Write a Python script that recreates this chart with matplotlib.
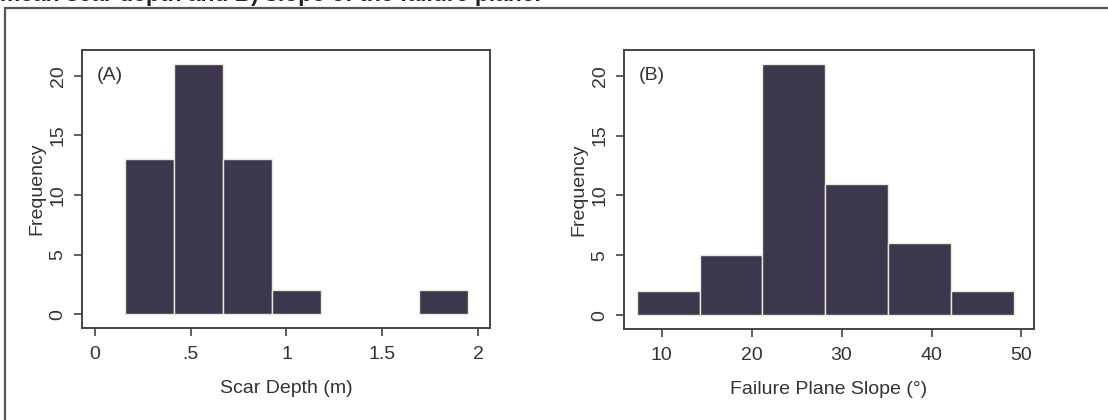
import matplotlib.pyplot as plt
import matplotlib.patches as patches
import numpy as np

plt.rcParams['font.family'] = ['Liberation Sans', 'DejaVu Sans']

# (A) scar depth histogram: bin edges (m) and counts
depth_edges = [0.157, 0.413, 0.669, 0.925, 1.181, 1.437, 1.693, 1.949]
depth_counts = [13, 21, 13, 2, 0, 0, 2]
depth_ticks = [0, 0.5, 1, 1.5, 2]
depth_ticklabels = ['0', '.5', '1', '1.5', '2']

# (B) failure plane slope histogram: bin edges (deg) and counts
slope_edges = [7.2, 14.2, 21.2, 28.2, 35.2, 42.2, 49.2]
slope_counts = [2, 5, 21, 11, 6, 2]
slope_ticks = [10, 20, 30, 40, 50]

freq_ticks = [0, 5, 10, 15, 20]

bar_color = '#3b374c'
edge_color = '#ece8d6'
text_color = '#333333'
spine_color = '#444444'

fig = plt.figure(figsize=(11.08, 4.2), dpi=100)

# clipped caption line at the very top (cut off in the original too)
fig.text(0.0, 1.0 + 5 / 420, 'mean scar depth and B) slope of the failure plane.',
         fontsize=16.5, fontweight='bold', color='#222222', ha='left', va='center')

# outer frame (only top and left visible)
frame = patches.Rectangle((5 / 1108, -0.2), 1.2, 1.2 - 8 / 420,
                          transform=fig.transFigure, fill=False,
                          edgecolor='#555555', linewidth=1.6)
fig.patches.append(frame)

ax1 = fig.add_axes([82 / 1108, 1 - 328 / 420, 408 / 1108, 278 / 420])
ax2 = fig.add_axes([624 / 1108, 1 - 329 / 420, 410 / 1108, 279 / 420])


def draw_hist(ax, edges, counts, xlim, xticks, xticklabels, xlabel, tag):
    edges = np.asarray(edges)
    counts = np.asarray(counts)
    keep = counts > 0
    ax.bar(edges[:-1][keep], counts[keep], width=np.diff(edges)[keep], align='edge',
           color=bar_color, edgecolor=edge_color, linewidth=1.0)
    ax.set_xlim(*xlim)
    ax.set_ylim(-1.15, 22.15)
    ax.set_xticks(xticks)
    ax.set_xticklabels(xticklabels)
    ax.set_yticks(freq_ticks)
    ax.set_yticklabels([str(t) for t in freq_ticks], rotation=90, va='center')
    ax.tick_params(direction='out', length=6, width=1.2, colors=spine_color,
                   labelcolor=text_color, labelsize=14)
    ax.tick_params(axis='x', pad=7)
    ax.tick_params(axis='y', pad=5)
    for s in ax.spines.values():
        s.set_color(spine_color)
        s.set_linewidth(1.4)
    ax.set_xlabel(xlabel, fontsize=14, color=text_color, labelpad=12)
    ax.set_ylabel('Frequency', fontsize=14, color=text_color, labelpad=3)
    ax.text(0.035, 20, tag, transform=ax.get_yaxis_transform(),
            fontsize=14, color=text_color, ha='left', va='center')


draw_hist(ax1, depth_edges, depth_counts, (-0.068, 2.063), depth_ticks,
          depth_ticklabels, 'Scar Depth (m)', '(A)')
draw_hist(ax2, slope_edges, slope_counts, (5.8, 51.4), slope_ticks,
          [str(t) for t in slope_ticks], 'Failure Plane Slope (°)', '(B)')

fig.savefig('out.png', dpi=100)
